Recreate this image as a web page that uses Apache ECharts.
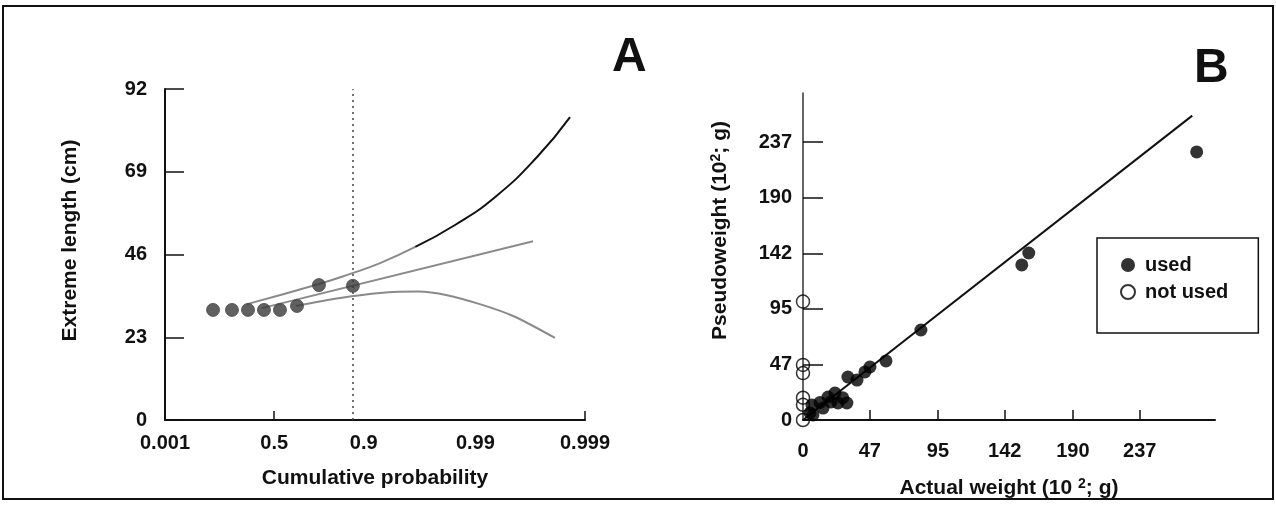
<!DOCTYPE html>
<html><head><meta charset="utf-8">
<script src="https://cdn.jsdelivr.net/npm/echarts@6/dist/echarts.min.js"></script>
<style>html,body{margin:0;padding:0;background:#fff}#c{width:1276px;height:507px}</style>
</head><body><div id="c"></div>
<script>
// ---------- Panel A : extreme length vs cumulative probability (Gumbel paper) ----------
const probTicks = [0.001, 0.5, 0.9, 0.99, 0.999];
const probTickMarks = [0.5, 0.999];
const lengthTicks = [0, 23, 46, 69, 92];
const obsProb = [0.081, 0.185, 0.300, 0.423, 0.541, 0.651, 0.763, 0.876];
const obsLength = [30.6, 30.6, 30.6, 30.6, 30.6, 31.7, 37.5, 37.3];
const upperProbGrey = [0.293, 0.763, 0.869, 0.928, 0.965];
const upperLenGrey = [32.2, 37.8, 40.6, 43.6, 48.1];
const upperProbBlack = [0.965, 0.9847, 0.9934, 0.99726, 0.99863];
const upperLenBlack = [48.1, 54.2, 62.0, 73.1, 84.2];
const fitProb = [0.408, 0.99702];
const fitLen = [31.1, 49.7];
const lowerProb = [0.645, 0.841, 0.928, 0.967, 0.9819, 0.9909, 0.99547, 0.99812];
const lowerLen = [31.7, 33.9, 35.3, 35.7, 34.7, 32.2, 28.9, 22.8];

// ---------- Panel B : pseudoweight vs actual weight ----------
const weightTicks = [0, 47, 95, 142, 190, 237];
const weightTickMarks = [47, 95, 142, 190, 237];
const usedActual = [4.9, 6.3, 7.0, 12, 14.1, 17.6, 19.7, 22.5, 24.6, 28, 30.9, 31.6, 38.0, 43.6, 47.1, 58.4, 83.0, 154.0, 158.9, 277.1];
const usedPseudo = [6.0, 12.8, 4.3, 15, 10.2, 19.6, 15.4, 23.0, 14.5, 19, 14.5, 36.7, 34.1, 41.0, 45.2, 50.4, 76.8, 132.3, 142.5, 228.7];
const notUsedActual = [0, 0, 0, 0, 0, 0];
const notUsedPseudo = [101, 47, 40, 19, 13, 0];
const lineActual = [0, 274];
const linePseudo = [0, 259.7];

// Gumbel reduced variate (probability-paper scale)
const gum = p => -Math.log(-Math.log(p));
const pairs = (xs, ys, fx) => xs.map((x, i) => [fx ? fx(x) : x, ys[i]]);

const FONT = '"Liberation Sans", Arial, Helvetica, sans-serif';
const INK = '#111';
const lbl = (extra) => Object.assign({color: INK, fontFamily: FONT, fontWeight: 'bold', fontSize: 20}, extra || {});

const chart = echarts.init(document.getElementById('c'), null, {renderer: 'canvas'});
const gTicks = probTicks.map(gum);
const supStyle = {fontSize: 14, fontWeight: 'bold', fontFamily: FONT, color: INK, verticalAlign: 'top', padding: [0, 0, 8, 0]};

chart.setOption({
  backgroundColor: '#ffffff',
  animation: false,
  textStyle: {fontFamily: FONT},
  grid: [
    {left: 165, right: 691, top: 89, bottom: 87},
    {left: 803, right: 61, top: 93, bottom: 87}
  ],
  xAxis: [
    {
      gridIndex: 0, type: 'value', min: gum(0.001), max: gum(0.999),
      name: 'Cumulative probability', nameLocation: 'middle', nameGap: 48,
      nameTextStyle: lbl({fontSize: 21}),
      axisLine: {onZero: false, lineStyle: {color: INK, width: 2}},
      axisTick: {inside: true, length: 9, lineStyle: {color: INK, width: 1.5}, customValues: probTickMarks.map(gum)},
      axisLabel: lbl({margin: 13, customValues: gTicks, formatter: v => {
        let best = 0; gTicks.forEach((g, i) => { if (Math.abs(g - v) < Math.abs(gTicks[best] - v)) best = i; });
        return String(probTicks[best]);
      }}),
      splitLine: {show: false}
    },
    {
      gridIndex: 1, type: 'value', min: 0, max: 290,
      name: 'Actual weight (10 {s|2}; g)', nameLocation: 'middle', nameGap: 57,
      nameTextStyle: lbl({fontSize: 21, rich: {s: supStyle}}),
      axisLine: {onZero: false, lineStyle: {color: INK, width: 2}},
      axisTick: {inside: true, length: 10, lineStyle: {color: INK, width: 1.5}, customValues: weightTickMarks},
      axisLabel: lbl({margin: 21, customValues: weightTicks}),
      splitLine: {show: false}
    }
  ],
  yAxis: [
    {
      gridIndex: 0, type: 'value', min: 0, max: 92, interval: 23,
      name: 'Extreme length (cm)', nameLocation: 'middle', nameGap: 84, nameRotate: 90,
      nameTextStyle: lbl({fontSize: 21, padding: [0, 0, 0, 28]}),
      axisLine: {onZero: false, lineStyle: {color: INK, width: 2}},
      axisTick: {inside: true, length: 19, lineStyle: {color: INK, width: 1.5}, customValues: lengthTicks},
      axisLabel: lbl({margin: 18, customValues: lengthTicks}),
      splitLine: {show: false}
    },
    {
      gridIndex: 1, type: 'value', min: 0, max: 279,
      name: 'Pseudoweight (10{s|2}; g)', nameLocation: 'middle', nameGap: 72, nameRotate: 90,
      nameTextStyle: lbl({fontSize: 21, padding: [0, 0, 0, 52], rich: {s: supStyle}}),
      axisLine: {onZero: false, lineStyle: {color: '#333', width: 1.5}},
      axisTick: {inside: true, length: 20, lineStyle: {color: INK, width: 1.5}, customValues: weightTicks},
      axisLabel: lbl({margin: 11, customValues: weightTicks}),
      splitLine: {show: false}
    }
  ],
  legend: {
    data: ['used', 'not used'], orient: 'vertical', left: 1097, top: 238,
    icon: 'circle', itemWidth: 14, itemHeight: 14, itemGap: 7,
    padding: [17, 30, 31, 23], borderColor: INK, borderWidth: 1.5,
    textStyle: lbl({lineHeight: 20, padding: [0, 0, 0, 5]})
  },
  graphic: [
    {type: 'rect', shape: {x: 3, y: 6, width: 1270, height: 493}, style: {fill: 'none', stroke: '#111', lineWidth: 2}, silent: true},
    {type: 'text', left: 612, top: 34, style: {text: 'A', font: 'bold 48px ' + FONT, fill: INK}},
    {type: 'text', left: 1194, top: 45, style: {text: 'B', font: 'bold 48px ' + FONT, fill: INK}}
  ],
  series: [
    {type: 'line', name: 'upper', xAxisIndex: 0, yAxisIndex: 0, smooth: true, showSymbol: false,
      lineStyle: {color: '#8a8a8a', width: 2}, data: pairs(upperProbGrey, upperLenGrey, gum), z: 2},
    {type: 'line', name: 'upper2', xAxisIndex: 0, yAxisIndex: 0, smooth: true, showSymbol: false,
      lineStyle: {color: '#111', width: 2}, data: pairs(upperProbBlack, upperLenBlack, gum), z: 2},
    {type: 'line', name: 'fit', xAxisIndex: 0, yAxisIndex: 0, showSymbol: false,
      lineStyle: {color: '#8a8a8a', width: 2}, data: pairs(fitProb, fitLen, gum), z: 2},
    {type: 'line', name: 'lower', xAxisIndex: 0, yAxisIndex: 0, smooth: 0.3, showSymbol: false,
      lineStyle: {color: '#8a8a8a', width: 2}, data: pairs(lowerProb, lowerLen, gum), z: 2,
      markLine: {silent: true, symbol: 'none', label: {show: false},
        lineStyle: {color: '#444', width: 1.5, type: [2, 4]},
        data: [{xAxis: gum(obsProb[obsProb.length - 1])}]}},
    {type: 'scatter', name: 'obs', xAxisIndex: 0, yAxisIndex: 0, symbolSize: 13,
      itemStyle: {color: '#383838', borderColor: '#4a4a4a', borderWidth: 1}, data: pairs(obsProb, obsLength, gum), z: 5},

    {type: 'line', name: 'line', xAxisIndex: 1, yAxisIndex: 1, showSymbol: false,
      lineStyle: {color: INK, width: 2}, data: pairs(lineActual, linePseudo), z: 2},
    {type: 'scatter', name: 'used', xAxisIndex: 1, yAxisIndex: 1, symbolSize: 13,
      itemStyle: {color: '#000'}, data: pairs(usedActual, usedPseudo), z: 5},
    {type: 'scatter', name: 'not used', xAxisIndex: 1, yAxisIndex: 1, symbolSize: 13, clip: false,
      itemStyle: {color: 'rgba(0,0,0,0)', borderColor: '#000', borderWidth: 1.5}, data: pairs(notUsedActual, notUsedPseudo), z: 5}
  ]
});
</script></body></html>
